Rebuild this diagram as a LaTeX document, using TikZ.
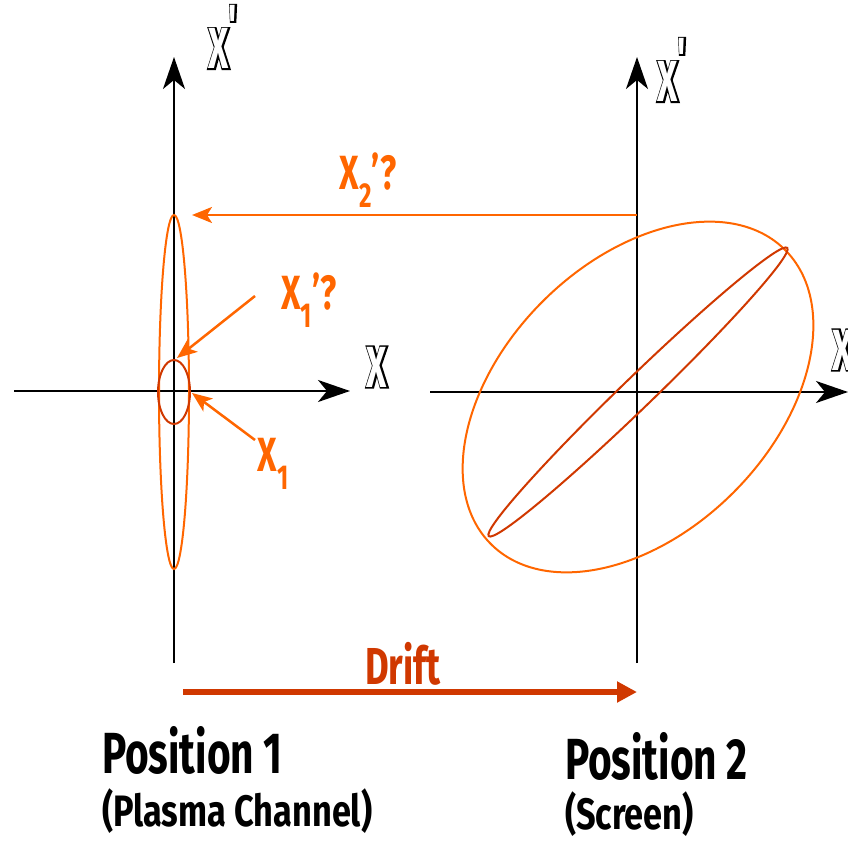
\documentclass[tikz,border=0pt]{standalone}
\usepackage{fontspec}
\usetikzlibrary{arrows.meta, shapes.geometric}
\newfontfamily\handfont{Fira Sans}[FakeStretch=0.7]
\newfontfamily\widehand{Fira Sans}[FakeStretch=0.78]
\newfontfamily\axisfont{Fira Sans}[FakeStretch=0.6]
\newfontfamily\axisrim{Fira Sans}[FakeStretch=0.6, FakeBold=5]
\definecolor{beam}{RGB}{255,102,0}
\definecolor{rust}{RGB}{208,56,0}
\newcommand{\lowidx}[1]{\raisebox{-0.38em}{\scalebox{0.72}{#1}}}
\newcommand{\primemark}{\raisebox{0.4em}{\char"27}}

\begin{document}
\begin{tikzpicture}[
  x=1pt, y=-1pt,
  every node/.style={inner sep=0pt, outer sep=0pt},
  >=Stealth,
  axisline/.style={line width=2pt, -{Stealth[length=32pt, width=22pt, inset=9pt]}},
  probe/.style={beam, line width=2.5pt, -{Stealth[length=20pt, width=16pt, inset=5pt]}},
  axisrimlabel/.style={text=black, font=\axisrim\bfseries\fontsize{58}{58}\selectfont},
  axislabel/.style={text=white, font=\axisfont\bfseries\fontsize{58}{58}\selectfont},
  hand/.style={text=beam, font=\handfont\bfseries\fontsize{48}{48}\selectfont},
  caption/.style={anchor=west, font=\handfont\bfseries\fontsize{58}{58}\selectfont},
  subcaption/.style={anchor=west, font=\widehand\bfseries\fontsize{44}{44}\selectfont}
]
\useasboundingbox (0,0) rectangle (848,842);

% Position 1
\coordinate (o1) at (174,391);
\coordinate (b1) at (174,663);
\coordinate (t1) at (174,57);
\coordinate (l1) at (14,391);
\coordinate (r1) at (350,391);
\draw[axisline] (b1) -- (t1);
\draw[axisline] (l1) -- (r1);
\node[axisrimlabel] (xp1rim) at (223,37) {X\primemark};
\node[axislabel] (xp1) at (223,37) {X\primemark};
\node[axisrimlabel] (x1rim) at (377,367) {X};
\node[axislabel] (x1) at (377,367) {X};

\node[draw=beam, line width=2pt, ellipse, minimum width=30pt, minimum height=354pt]
  (tall) at (174,392) {};
\node[draw=rust, line width=2pt, ellipse, minimum width=32pt, minimum height=64pt]
  (small) at (174,392) {};

% Position 2
\coordinate (o2) at (637,392);
\coordinate (b2) at (637,663);
\coordinate (t2) at (637,57);
\coordinate (l2) at (430,392);
\coordinate (r2) at (848,392);
\draw[axisline] (b2) -- (t2);
\draw[axisline] (l2) -- (r2);
\node[axisrimlabel] (xp2rim) at (672,70) {X\primemark};
\node[axislabel] (xp2) at (672,70) {X\primemark};
\node[axisrimlabel] (x2rim) at (843,350) {X};
\node[axislabel] (x2) at (843,350) {X};

\node[draw=beam, line width=2pt, ellipse, rotate=45,
      minimum width=416pt, minimum height=270pt] (wide) at (638,397) {};
\node[draw=rust, line width=2pt, ellipse, rotate=44,
      minimum width=415pt, minimum height=31pt] (thin) at (638,392) {};

% Questions
\node[hand] (q2) at (368,180) {X\lowidx{2}’?};
\coordinate (s2) at (637,215);
\coordinate (e2) at (192,215);
\draw[probe] (s2) -- (e2);

\node[hand] (q1) at (309,300) {X\lowidx{1}’?};
\coordinate (s1) at (255,296);
\coordinate (e1) at (177,358);
\draw[probe] (s1) -- (e1);

\node[hand] (k1) at (273,464) {X\lowidx{1}};
\coordinate (s0) at (255,440);
\coordinate (e0) at (192,393);
\draw[probe] (s0) -- (e0);

% Drift
\coordinate (d1) at (183,692);
\coordinate (d2) at (637,692);
\draw[rust, line width=6pt, -{Triangle[length=20pt, width=20pt]}] (d1) -- (d2);
\node[text=rust, font=\handfont\bfseries\fontsize{52}{52}\selectfont]
  (drift) at (403,664) {Drift};

% Captions
\node[caption] (pos1) at (102,750) {Position 1};
\node[subcaption] (chan) at (102,811) {(Plasma Channel)};
\node[caption] (pos2) at (565,756) {Position 2};
\node[subcaption] (scr) at (565,814) {(Screen)};

\end{tikzpicture}
\end{document}
